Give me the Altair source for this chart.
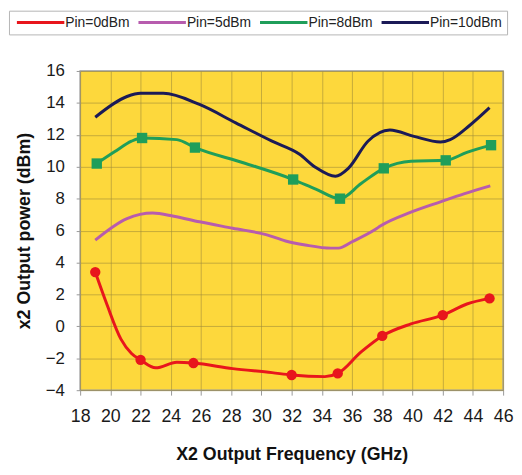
import altair as alt
import pandas as pd

series_names = ["Pin=0dBm", "Pin=5dBm", "Pin=8dBm", "Pin=10dBm"]
series_colors = ["#e8161c", "#b75cae", "#1f9e5a", "#1b1a57"]

# Pin=0dBm (red, circle markers)
p0_x = [19.0, 19.8, 20.7, 21.4, 22.0, 23.0, 24.4, 25.5, 28.1, 30.7, 32.0, 34.2, 35.05, 36.6, 38.0, 39.9, 42.0, 43.6, 45.1]
p0_y = [3.4, 1.3, -0.8, -1.7, -2.1, -2.6, -2.25, -2.3, -2.65, -2.9, -3.05, -3.15, -2.95, -1.6, -0.6, 0.15, 0.7, 1.4, 1.75]
p0_m = [1, 0, 0, 0, 1, 0, 0, 1, 0, 0, 1, 0, 1, 0, 1, 0, 1, 0, 1]

# Pin=5dBm (magenta, no markers)
p5_x = [19.0, 21.1, 22.8, 24.2, 25.9, 28.1, 30.3, 31.6, 32.9, 34.6, 35.1, 36.0, 37.5, 37.9, 39.9, 41.85, 43.4, 45.15]
p5_y = [5.4, 6.75, 7.1, 6.9, 6.55, 6.15, 5.75, 5.35, 5.1, 4.9, 4.9, 5.3, 6.05, 6.3, 7.15, 7.8, 8.3, 8.8]

# Pin=8dBm (green, square markers)
p8_x = [19.1, 20.3, 21.4, 22.1, 24.4, 25.6, 28.8, 32.1, 33.6, 35.2, 36.6, 38.1, 39.9, 42.2, 43.6, 45.2]
p8_y = [10.2, 10.95, 11.6, 11.8, 11.7, 11.2, 10.25, 9.2, 8.6, 8.0, 8.95, 9.9, 10.35, 10.4, 10.9, 11.35]
p8_m = [1, 0, 0, 1, 0, 1, 0, 1, 0, 1, 0, 1, 0, 1, 0, 1]

# Pin=10dBm (navy, no markers)
p10_x = [19.0, 21.1, 22.0, 23.5, 25.9, 28.3, 30.7, 32.5, 33.6, 34.9, 35.75, 37.05, 38.5, 40.1, 41.85, 42.5, 43.8, 45.1]
p10_y = [13.1, 14.4, 14.6, 14.6, 13.9, 12.75, 11.6, 10.8, 9.95, 9.4, 9.9, 11.6, 12.3, 11.9, 11.55, 11.7, 12.6, 13.7]

x_ticks = list(range(18, 47, 2))
y_ticks = list(range(-4, 17, 2))

rows = []
for name, xs, ys, ms in [
    ("Pin=0dBm", p0_x, p0_y, p0_m),
    ("Pin=5dBm", p5_x, p5_y, [0] * len(p5_x)),
    ("Pin=8dBm", p8_x, p8_y, p8_m),
    ("Pin=10dBm", p10_x, p10_y, [0] * len(p10_x)),
]:
    for i, (xv, yv, mv) in enumerate(zip(xs, ys, ms)):
        rows.append({"series": name, "freq": xv, "power": yv, "marker": mv, "order": i})
df = pd.DataFrame(rows)

FONT = "Liberation Sans"

color_scale = alt.Scale(domain=series_names, range=series_colors)

# legend glyph: a horizontal line segment drawn to the right of the symbol anchor
LINE = "M-1,0H11"

legend = alt.Legend(
    orient="none", legendX=-72, legendY=-61, direction="horizontal",
    columns=4, symbolType=LINE, symbolSize=64, symbolStrokeWidth=3,
    labelFont=FONT, labelFontSize=14, labelColor="#222",
    strokeColor="#b5b5b5", fillColor="white", padding=5,
    columnPadding=3, labelOffset=38, title=None,
)

x_enc = alt.X(
    "freq:Q",
    scale=alt.Scale(domain=[18, 46], nice=False, zero=False),
    axis=alt.Axis(
        values=x_ticks, tickCount=40, format="d", title="X2 Output Frequency (GHz)", tickSize=5,
        labelPadding=13, titlePadding=20, labelFontSize=18, titleFontSize=18,
        labelFlush=False, labelOverlap=False,
    ),
)
y_enc = alt.Y(
    "power:Q",
    scale=alt.Scale(domain=[-4, 16], nice=False, zero=False),
    axis=alt.Axis(
        values=y_ticks, tickCount=40, format="d", title="x2 Output power (dBm)", tickSize=4,
        labelPadding=12, titlePadding=12, labelFontSize=17, titleFontSize=18,
        labelFlush=False, labelOverlap=False,
    ),
)

lines = alt.Chart(df).mark_line(interpolate="monotone", strokeWidth=3).encode(
    x=x_enc,
    y=y_enc,
    color=alt.Color("series:N", scale=color_scale, legend=legend),
    detail="series:N",
    order="order:Q",
)

red_pts = alt.Chart(df).transform_filter(
    (alt.datum.marker == 1) & (alt.datum.series == "Pin=0dBm")
).mark_point(shape="circle", filled=True, size=110, opacity=1, color="#e8161c").encode(
    x="freq:Q", y="power:Q"
)

green_pts = alt.Chart(df).transform_filter(
    (alt.datum.marker == 1) & (alt.datum.series == "Pin=8dBm")
).mark_point(shape="square", filled=True, size=110, opacity=1, color="#1f9e5a").encode(
    x="freq:Q", y="power:Q"
)

chart = alt.layer(lines, red_pts, green_pts).properties(
    width=428,
    height=323,
    autosize=alt.AutoSizeParams(type="none"),
    padding={"left": 73, "top": 61, "right": 11, "bottom": 75},
    background="white",
).configure_view(
    fill="#fdd83c", stroke="#9a9a9a", strokeWidth=1.5
).configure_axis(
    labelFont=FONT, titleFont=FONT, labelColor="#1a1a1a", titleColor="#111",
    titleFontWeight="bold", grid=True, gridColor="#a08c3a", gridOpacity=0.6,
    gridWidth=1, domain=False, tickColor="#999999",
)

chart.save("out.html", embed_options={"renderer": "svg", "actions": False})
